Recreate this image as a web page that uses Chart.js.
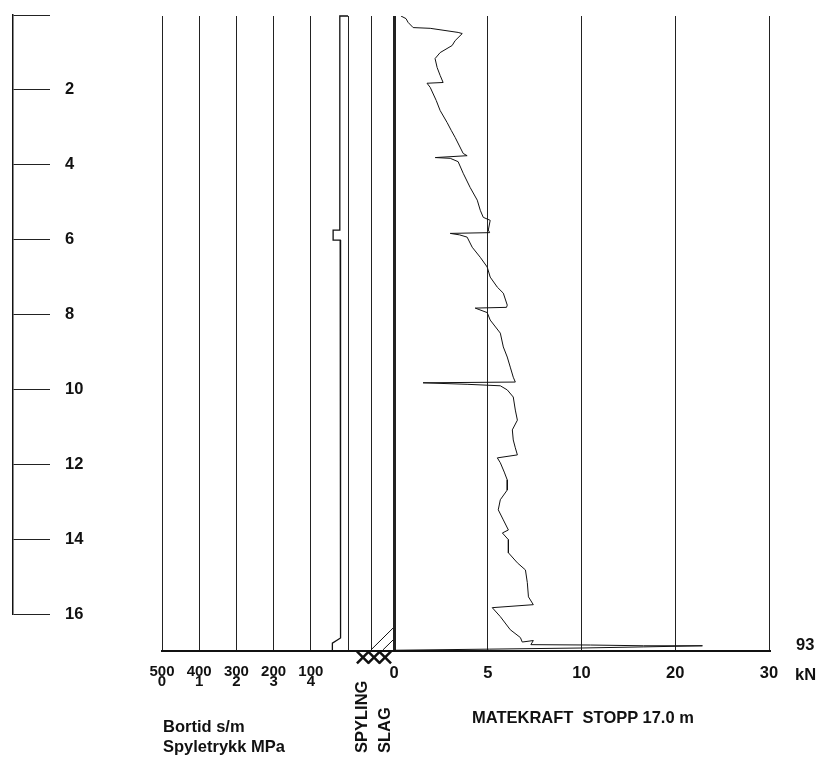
<!DOCTYPE html>
<html>
<head>
<meta charset="utf-8">
<script src="https://cdn.jsdelivr.net/npm/chart.js@4.4.1/dist/chart.umd.min.js"></script>
<style>
  html, body { margin: 0; padding: 0; background: #fff; }
  #sheet { position: relative; width: 820px; height: 773px; overflow: hidden;
           font-family: "Liberation Sans", Arial, sans-serif; color: #111; }
  #sheet canvas { position: absolute; top: 0; }
  .cap { position: absolute; font-size: 16.5px; line-height: 17px; font-weight: bold; white-space: pre; }
  .up { transform-origin: 0 0; transform: rotate(-90deg); }
</style>
</head>
<body>
<div id="sheet">
  <canvas id="ruler"  width="130" height="773" style="left:0px"></canvas>
  <canvas id="bortid" width="246" height="773" style="left:132px"></canvas>
  <canvas id="modes"  width="106" height="773" style="left:318px"></canvas>
  <canvas id="force"  width="456" height="773" style="left:364px"></canvas>

  <div class="cap" style="left:163px; top:718px">Bortid s/m</div>
  <div class="cap" style="left:163px; top:738px">Spyletrykk MPa</div>
  <div class="cap up" style="left:353px; top:753px">SPYLING</div>
  <div class="cap up" style="left:376px; top:753px">SLAG</div>
  <div class="cap" style="left:472px; top:709px">MATEKRAFT  STOPP 17.0 m</div>
  <div class="cap" style="left:795px; top:666px">kN</div>
  <div class="cap" style="left:796px; top:636px">93</div>
</div>

<script>
// ---- depth ruler (m) ----
const depthTicks = [0, 2, 4, 6, 8, 10, 12, 14, 16];

// ---- drilling time / flushing pressure panel ----
const bortidTicks = [500, 400, 300, 200, 100];   // s/m
const spyleTicks  = [0, 1, 2, 3, 4];             // MPa
const bortidDepth = [0, 0, 5.73, 5.73, 6.0, 6.0, 16.65, 16.79, 17.0];
const bortidValue = [0, 22, 22, 40, 40, 21, 20, 42, 42];

// ---- flushing / hammering columns ----
const slagHatchA = [[1.0, 16.97], [2.0, 16.36]];
const slagHatchB = [[1.52, 16.97], [2.0, 16.68]];
const stopMarks  = [[0.65, 17.17], [1.13, 17.17], [1.61, 17.17]];

// ---- feed force (kN) ----
const forceTicks = [0, 5, 10, 20, 30];
const forceDepth = [
  0.00, 0.07, 0.17, 0.31, 0.33, 0.44, 0.47, 0.66, 0.79, 0.98, 1.14, 1.38, 1.59, 1.78,
  1.80, 1.91, 2.26, 2.53, 2.85, 3.06, 3.25, 3.68, 3.74, 3.79, 3.81, 3.90, 4.21, 4.59,
  4.93, 5.20, 5.39, 5.47, 5.73, 5.80, 5.82, 5.86, 5.92, 6.19, 6.46, 6.72, 6.99, 7.26,
  7.42, 7.74, 7.80, 7.82, 7.94, 8.14, 8.49, 8.86, 9.13, 9.40, 9.67, 9.80, 9.82, 9.86,
  9.90, 10.01, 10.20, 10.55, 10.82, 11.08, 11.35, 11.56, 11.75, 11.83, 11.96, 12.21,
  12.42, 12.69, 12.95, 13.22, 13.49, 13.76, 13.84, 14.02, 14.37, 14.64, 14.83, 15.17,
  15.55, 15.76, 15.84, 16.08, 16.43, 16.64, 16.76, 16.72, 16.83, 16.84, 16.86, 16.86,
  16.89, 16.92, 16.95, 16.98
];
const forceKN = [
  0.37, 0.64, 0.75, 1.02, 1.93, 3.42, 3.64, 3.26, 3.10, 2.46, 2.19, 2.30, 2.46, 2.62,
  1.76, 1.93, 2.25, 2.46, 2.83, 3.05, 3.26, 3.69, 3.90, 2.20, 3.00, 3.42, 3.69, 4.06,
  4.44, 4.60, 4.76, 5.13, 5.03, 5.10, 3.00, 3.50, 3.90, 4.17, 4.60, 4.97, 5.13, 5.51,
  5.83, 6.04, 6.00, 4.33, 4.97, 5.13, 5.67, 5.83, 6.04, 6.20, 6.36, 6.47, 1.55, 3.90,
  5.67, 6.04, 6.36, 6.47, 6.58, 6.31, 6.36, 6.47, 6.58, 5.51, 5.67, 5.88,
  6.04, 6.04, 5.67, 5.56, 5.83, 6.10, 5.78, 6.10, 6.10, 6.58, 7.01, 7.11,
  7.17, 7.43, 5.24, 5.67, 6.20, 6.74, 6.84, 7.43, 7.30, 10.96, 16.6, 22.9,
  16.6, 10.0, 5.1, 0.0
];
const forceBreak = 10;   // axis is stretched below this value, compressed above

const INK = '#111';
const GRID = '#222';
Chart.defaults.font.family = '"Liberation Sans", Arial, sans-serif';
Chart.defaults.font.weight = 'bold';
Chart.defaults.color = INK;

// Linear axis whose lower half holds min..break and upper half break..max
class SplitLinearScale extends Chart.LinearScale {
  static id = 'splitLinear';
  static defaults = {};
  getPixelForValue(value) {
    if (value === null || value === undefined) return NaN;
    const lo = this.min, hi = this.max, b = forceBreak;
    const dec = value <= b ? (value - lo) / (b - lo) / 2 : 0.5 + (value - b) / (hi - b) / 2;
    return this.getPixelForDecimal(dec);
  }
  getValueForPixel(pixel) {
    const dec = this.getDecimalForPixel(pixel), lo = this.min, hi = this.max, b = forceBreak;
    return dec <= 0.5 ? lo + dec * 2 * (b - lo) : b + (dec - 0.5) * 2 * (hi - b);
  }
}
Chart.register(SplitLinearScale);

const pts = (xs, ys) => xs.map((v, i) => ({ x: v, y: ys[i] }));
const pairs = arr => arr.map(([x, y]) => ({ x, y }));
const fixedTicks = list => scale => { scale.ticks = list.slice().sort((a, b) => a - b).map(v => ({ value: v })); };

const common = (padding) => ({
  responsive: false,
  devicePixelRatio: 1,
  animation: false,
  events: [],
  layout: { padding },
  plugins: { legend: { display: false }, tooltip: { enabled: false }, title: { display: false } }
});

const depthAxis = { type: 'linear', min: 0, max: 17, reverse: true, display: false };

// Depth ruler
new Chart(document.getElementById('ruler'), {
  type: 'scatter',
  data: { datasets: [] },
  options: Object.assign(common({ top: 15, bottom: 159, left: 0, right: 0 }), {
    scales: {
      x: { display: false },
      y: {
        type: 'linear', position: 'right', min: 0, max: 16, reverse: true,
        afterBuildTicks: fixedTicks(depthTicks),
        afterFit: s => { s.width = 117; s.paddingTop = 0; s.paddingBottom = 0; },
        grid: { drawOnChartArea: false, drawTicks: true, tickLength: 37, color: GRID, lineWidth: 1 },
        border: { display: true, color: INK, width: 1.5 },
        ticks: { padding: 15, font: { size: 16.5 }, color: INK,
                 callback: v => (v === 0 ? '' : String(v)) }
      }
    }
  })
});

// Drilling time / flushing pressure
new Chart(document.getElementById('bortid'), {
  type: 'scatter',
  data: {
    datasets: [{
      data: pts(bortidValue, bortidDepth),
      showLine: true, borderColor: INK, borderWidth: 1.3, pointRadius: 0, clip: false
    }]
  },
  options: Object.assign(common({ top: 16, bottom: 82, left: 30, right: 30 }), {
    scales: {
      x: {
        type: 'linear', min: 0, max: 500, reverse: true,
        afterBuildTicks: fixedTicks(bortidTicks.concat([0])),
        afterFit: s => { s.height = 40; },
        grid: { color: GRID, lineWidth: 1, drawTicks: false },
        border: { display: true, color: INK, width: 2 },
        ticks: {
          autoSkip: false, maxRotation: 0, padding: 16, color: INK,
          font: { size: 15, lineHeight: '10px' },
          callback: v => {
            const i = bortidTicks.indexOf(v);
            return i < 0 ? '' : [String(bortidTicks[i]), String(spyleTicks[i])];
          }
        }
      },
      y: depthAxis
    }
  })
});

// Flushing / hammering columns
new Chart(document.getElementById('modes'), {
  type: 'scatter',
  data: {
    datasets: [
      { data: pairs(slagHatchA), showLine: true, borderColor: INK, borderWidth: 1, pointRadius: 0 },
      { data: pairs(slagHatchB), showLine: true, borderColor: INK, borderWidth: 1, pointRadius: 0 },
      { data: pairs(stopMarks), showLine: false, pointStyle: 'crossRot', pointRadius: 8.5,
        pointBorderWidth: 2.5, pointBorderColor: INK, clip: false }
    ]
  },
  options: Object.assign(common({ top: 16, bottom: 82, left: 30, right: 30 }), {
    scales: {
      x: {
        type: 'linear', min: 0, max: 2,
        afterBuildTicks: fixedTicks([0, 1, 2]),
        afterFit: s => { s.height = 40; },
        grid: { color: GRID, lineWidth: 1, drawTicks: false },
        border: { display: true, color: INK, width: 2 },
        ticks: { display: false }
      },
      y: depthAxis
    }
  })
});

// Feed force
new Chart(document.getElementById('force'), {
  type: 'scatter',
  data: {
    datasets: [{
      data: pts(forceKN, forceDepth),
      showLine: true, borderColor: INK, borderWidth: 1, pointRadius: 0
    }]
  },
  options: Object.assign(common({ top: 16, bottom: 82, left: 30, right: 51 }), {
    scales: {
      x: {
        type: 'splitLinear', min: 0, max: 30,
        afterBuildTicks: fixedTicks(forceTicks),
        afterFit: s => { s.height = 40; },
        grid: { color: GRID, drawTicks: false,
                lineWidth: ctx => (ctx.tick && ctx.tick.value === 0 ? 3 : 1) },
        border: { display: true, color: INK, width: 2 },
        ticks: { autoSkip: false, maxRotation: 0, padding: 13, color: INK,
                 font: { size: 16.5 }, callback: v => String(v) }
      },
      y: depthAxis
    }
  })
});
</script>
</body>
</html>
